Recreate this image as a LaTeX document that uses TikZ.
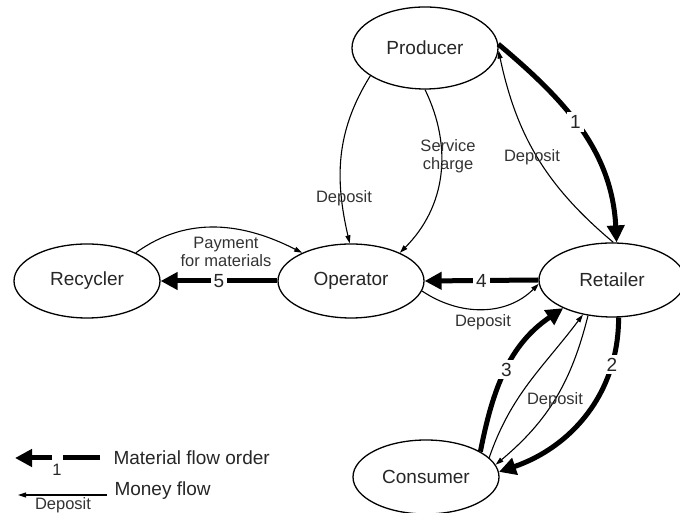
\documentclass[tikz,border=0pt]{standalone}
\usepackage{fontspec}
\setmainfont{Liberation Sans}
\usetikzlibrary{arrows.meta}
\usetikzlibrary{shapes.geometric}

\begin{document}
\begin{tikzpicture}[x=1pt,y=1pt,
  actor/.style={draw,ellipse,line width=1.3pt,minimum width=146pt,minimum height=74pt,
    text=black!85,font=\fontsize{19}{22}\selectfont},
  material/.style={line width=5pt,-{Triangle[length=17pt,width=17pt]}},
  money/.style={line width=1.1pt,-{Triangle[length=8pt,width=5pt]}},
  lbl/.style={text=black!80,font=\fontsize{16.5}{18}\selectfont,align=center},
  num/.style={fill=white,inner sep=3pt,text=black!85,font=\fontsize{19}{22}\selectfont}]

\useasboundingbox (0,0) rectangle (680,513);

% the five actors
\node[actor,minimum height=82pt] (producer) at (425,465) {Producer};
\node[actor] (recycler) at (87,232) {Recycler};
\node[actor] (operator) at (351,232) {Operator};
\node[actor] (retailer) at (612,233) {Retailer};
\node[actor] (consumer) at (426,36) {Consumer};

% material flow
\draw[material] (producer.3) to[out=-40,in=93] node[num,pos=0.45] (n1) {1} (retailer.83);
\draw[material] (retailer.-80) to[out=-90,in=19] node[num,pos=0.22] (n2) {2} (consumer.4);
\draw[material] (consumer.25) to[out=79,in=214] node[num,pos=0.5] (n3) {3} (retailer.210);
\draw[material] (retailer.west) -- node[num] (n4) {4} (operator.east);
\draw[material] (operator.west) -- node[num] (n5) {5} (recycler.east);

% money flow
\draw[money] (retailer.88) to[out=140,in=-78] (producer.-2);
\draw[money] (producer.207) to[out=238,in=103] (operator.92);
\draw[money] (producer.south) to[out=-64,in=45] (operator.30);
\draw[money] (recycler.30) to[out=36,in=153] (operator.150);
\draw[money] (operator.-8) to[out=-34,in=225] (retailer.183);
\draw[money] (consumer.17) to[out=71,in=233] (retailer.230);
\draw[money] (retailer.236) to[out=256,in=40] (consumer.10);

\node[lbl] (depret) at (532,356) {Deposit};
\node[lbl] (service) at (448,357) {Service\\charge};
\node[lbl] (depop) at (344,315) {Deposit};
\node[lbl] (payment) at (226,261) {Payment\\for materials};
\node[lbl] (depdown) at (483,191) {Deposit};
\node[lbl] (depcon) at (555,113) {Deposit};

% legend
\coordinate (matfrom) at (52,55);
\coordinate (matto) at (15,55);
\coordinate (matbarA) at (63,55);
\coordinate (matbarB) at (100,55);
\draw[material] (matfrom) -- (matto);
\draw[line width=5pt] (matbarA) -- (matbarB);
\node[text=black!85,font=\fontsize{16.5}{18}\selectfont] (matone) at (57,43) {1};
\node[anchor=west,text=black!85,font=\fontsize{19}{22}\selectfont] (matkey) at (110,55) {Material flow order};

\coordinate (monfrom) at (107,18);
\coordinate (monto) at (18,18);
\draw[money] (monfrom) -- (monto);
\node[anchor=west,text=black!85,font=\fontsize{19}{22}\selectfont] (monkey) at (111,22) {Money flow};
\node[lbl] (mondep) at (63,8) {Deposit};

\end{tikzpicture}
\end{document}
